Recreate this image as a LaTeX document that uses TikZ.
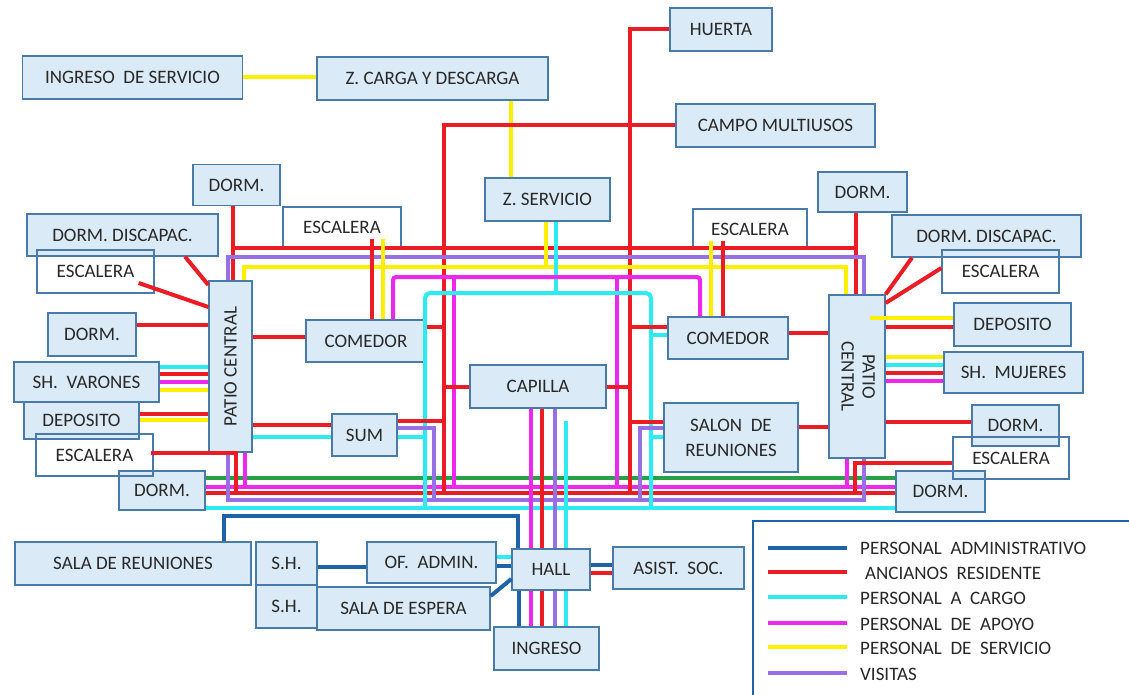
\documentclass[tikz,border=0pt]{standalone}
\usepackage{fontspec}
\setmainfont{Carlito}
\usepackage{tikz}
\usetikzlibrary{positioning,calc}

\definecolor{boxfill}{RGB}{218,234,246}
\definecolor{boxline}{RGB}{72,122,170}
\definecolor{txtgray}{RGB}{40,40,40}
\definecolor{cRed}{RGB}{236,28,36}
\definecolor{cCyan}{RGB}{45,235,240}
\definecolor{cMag}{RGB}{236,40,236}
\definecolor{cYel}{RGB}{255,240,0}
\definecolor{cPur}{RGB}{150,112,228}
\definecolor{cGrn}{RGB}{40,160,72}
\definecolor{cBlu}{RGB}{30,98,168}

\begin{document}
\begin{tikzpicture}[x=1pt, y=-1pt,
  room/.style={draw=boxline, fill=boxfill, line width=1.3pt, inner sep=0pt,
               text=txtgray, font=\fontsize{19}{25}\selectfont, align=center},
  stair/.style={room, fill=none},
  flow/.style={line width=4pt},
  rd/.style={flow, draw=cRed},
  cy/.style={flow, draw=cCyan},
  mg/.style={flow, draw=cMag},
  yl/.style={flow, draw=cYel},
  pu/.style={flow, draw=cPur},
  gr/.style={flow, draw=cGrn, line width=3.2pt},
  bl/.style={flow, draw=cBlu},
  legbox/.style={draw=cBlu, line width=2pt},
  legtxt/.style={anchor=west, inner sep=0pt, text=txtgray,
                 font=\fontsize{19}{22}\selectfont}
]
\fill[white] (0,0) rectangle (1129,695);
\useasboundingbox (0,0) rectangle (1129,695);

\node[room, minimum width=220pt, minimum height=43pt] (ingServ) at (132.5,77.5) {INGRESO~ DE SERVICIO};
\node[room, minimum width=231pt, minimum height=43pt] (zCarga)  at (432.5,78.5) {Z. CARGA Y DESCARGA};
\node[room, minimum width=102pt, minimum height=43pt] (huerta)  at (721,29.5)   {HUERTA};
\node[room, minimum width=199pt, minimum height=43pt] (campo)   at (775.5,125.5) {CAMPO MULTIUSOS};
\node[room, minimum width=125pt, minimum height=43pt] (zServ)   at (547.5,199.5) {Z. SERVICIO};

\node[room, minimum width=87pt,  minimum height=41pt] (dormTL)  at (236.5,185)  {DORM.};
\node[room, minimum width=191pt, minimum height=42pt] (discL)   at (122.5,235)  {DORM. DISCAPAC.};
\node[room, minimum width=88pt,  minimum height=43pt] (dormL1)  at (92,334.5)   {DORM.};
\node[room, minimum width=145pt, minimum height=40pt] (shVar)   at (86.5,382)   {SH.~ VARONES};
\node[room, minimum width=115pt, minimum height=37pt] (depL)    at (81.5,420.5) {DEPOSITO};
\node[room, minimum width=86pt,  minimum height=39pt] (dormL2)  at (162,490.5)  {DORM.};
\node[room, minimum width=43pt,  minimum height=171pt] (patioL) at (230.5,366.5) {\rotatebox{90}{PATIO CENTRAL}};

\node[room, minimum width=120pt, minimum height=42pt] (comL)    at (366,341)    {COMEDOR};
\node[room, minimum width=65pt,  minimum height=42pt] (sum)     at (364.5,435)  {SUM};
\node[room, minimum width=136pt, minimum height=43pt] (capilla) at (538,386.5)  {CAPILLA};
\node[room, minimum width=120pt, minimum height=42pt] (comR)    at (728,338)    {COMEDOR};
\node[room, minimum width=134pt, minimum height=69pt] (salon)   at (731,437.5)  {SALON~ DE\\REUNIONES};
\node[room, minimum width=56pt,  minimum height=163pt] (patioR) at (857,376.5)
  {\rotatebox{-90}{\begin{tabular}{@{}c@{}}PATIO\\[-4pt]CENTRAL\end{tabular}}};

\node[room, minimum width=89pt,  minimum height=40pt] (dormTR)  at (862.5,192)  {DORM.};
\node[room, minimum width=189pt, minimum height=42pt] (discR)   at (986.5,236)  {DORM. DISCAPAC.};
\node[room, minimum width=117pt, minimum height=43pt] (depR)    at (1012.5,324.5) {DEPOSITO};
\node[room, minimum width=139pt, minimum height=41pt] (shMuj)   at (1013.5,372.5) {SH.~ MUJERES};
\node[room, minimum width=87pt,  minimum height=41pt] (dormR1)  at (1015.5,425.5) {DORM.};
\node[room, minimum width=89pt,  minimum height=41pt] (dormR2)  at (940.5,491.5) {DORM.};

\node[room, minimum width=236pt, minimum height=43pt] (salaReu) at (133,563.5)  {SALA DE REUNIONES};
\node[room, minimum width=61pt,  minimum height=43pt] (shTop)   at (286.5,563.5) {S.H.};
\node[room, minimum width=61pt,  minimum height=43pt] (shBot)   at (286.5,606.5) {S.H.};
\node[room, minimum width=173pt, minimum height=43pt] (espera)  at (403.5,608.5) {SALA DE ESPERA};
\node[room, minimum width=129pt, minimum height=41pt] (ofAdm)   at (431.5,562.5) {OF.~ ADMIN.};
\node[room, minimum width=78pt,  minimum height=41pt] (hall)    at (551,569.5)  {HALL};
\node[room, minimum width=131pt, minimum height=42pt] (asist)   at (678.5,568)  {ASIST.~ SOC.};
\node[room, minimum width=105pt, minimum height=43pt] (ingreso) at (546.5,648.5) {INGRESO};

\node[stair, minimum width=117pt, minimum height=43pt] (escL1)  at (95.5,271.5) {ESCALERA};
\node[stair, minimum width=117pt, minimum height=42pt] (escL2)  at (94.5,455)   {ESCALERA};
\node[stair, minimum width=118pt, minimum height=40pt] (escC1)  at (342,227)    {ESCALERA};
\node[stair, minimum width=114pt, minimum height=40pt] (escC2)  at (750,229)    {ESCALERA};
\node[stair, minimum width=117pt, minimum height=43pt] (escR1)  at (1000.5,271.5) {ESCALERA};
\node[stair, minimum width=116pt, minimum height=42pt] (escR2)  at (1011,458)   {ESCALERA};

\draw[gr] (dormL2.east |- 0,478) -- (dormR2.west |- 0,478);
\draw[mg] (dormL2.east |- 0,487) -- (dormR2.west |- 0,487);
\draw[rd] (dormL2.east |- 0,493) -- (dormR2.west |- 0,493);
\draw[cy] (dormL2.east |- 0,508) -- (dormR2.west |- 0,508);
\draw[pu] (patioL.south -| 228,0) -- (228,500) -- (864,500) -- (patioR.south -| 864,0);
\draw[bl] (salaReu.north -| 224,0) -- (224,516) -- (518,516) -- (hall.north -| 518,0);

\draw[yl] (ingServ.east) -- (ingServ.east -| zCarga.west);
\draw[yl] (zCarga.south -| 511,0) -- (zServ.north -| 511,0);
\draw[rd] (huerta.west) -| (630,493);
\draw[rd] (campo.west) -| (444,493);

\draw[rd] (dormTL.south -| 233,0) -- (patioL.north -| 233,0);
\draw[rd] (233,248) -- (856,248);
\draw[rd] (dormTR.south -| 856,0) -- (patioR.north -| 856,0);
\draw[pu] (patioL.north -| 228,0) |- (864,257) -- (patioR.north -| 864,0);
\draw[yl] (patioL.north -| 244,0) |- (846,267) -- (patioR.north -| 846,0);

\draw[rd] (discL.south -| 185,0) -- (patioL.west |- 0,285);
\draw[rd] (escL1.east |- 0,283) ++(-16,0) -- (patioL.west |- 0,307);
\draw[rd] (dormL1.east |- 0,325) -- (patioL.west |- 0,325);
\draw[cy] (shVar.east |- 0,367) -- (patioL.west |- 0,367);
\draw[rd] (shVar.east |- 0,374) -- (patioL.west |- 0,374);
\draw[mg] (shVar.east |- 0,382) -- (patioL.west |- 0,382);
\draw[yl] (shVar.east |- 0,390) -- (patioL.west |- 0,390);
\draw[rd] (depL.east |- 0,414) -- (patioL.west |- 0,414);
\draw[yl] (depL.east |- 0,420) -- (patioL.west |- 0,420);
\draw[rd] (escL2.east |- 0,453) ++(-3,0) -| (236,493);
\draw[mg] (patioL.south -| 245,0) -- (245,487);

\draw[rd] (patioL.east |- 0,337) -- (comL.west |- 0,337);
\draw[rd] (patioL.east |- 0,425) -- (sum.west |- 0,425);
\draw[cy] (patioL.east |- 0,437) -- (sum.west |- 0,437);

\draw[rd] (escC1.south -| 372,0) ++(0,-9) -- (comL.north -| 372,0);
\draw[yl] (escC1.south -| 383,0) ++(0,-9) -- (comL.north -| 383,0);
\draw[yl] (escC2.south -| 711,0) ++(0,-9) -- (comR.north -| 711,0);
\draw[rd] (escC2.south -| 723,0) ++(0,-9) -- (comR.north -| 723,0);
\draw[yl] (zServ.south -| 546,0) -- (546,267);
\draw[cy] (zServ.south -| 556,0) -- (556,293);
\draw[mg, rounded corners=3pt] (comL.north -| 393,0) |- (700,277) -- (comR.north -| 700,0);
\draw[mg] (454,277) -- (454,487);
\draw[mg] (617,277) -- (617,487);
\draw[cy, rounded corners=5pt] (425,508) |- (651,293) -- (651,508);

\draw[rd] (comL.east |- 0,327) -- (444,327);
\draw[rd] (capilla.west) -- (capilla.west -| 444,0);
\draw[rd] (capilla.east) -- (capilla.east -| 630,0);
\draw[rd] (comR.west |- 0,327) -- (630,327);
\draw[cy] (comR.west |- 0,335) -- (651,335);
\draw[rd] (salon.west |- 0,422) -- (630,422);
\draw[pu] (salon.west |- 0,428) -| (640,500);
\draw[cy] (salon.west |- 0,437) -- (651,437);
\draw[rd] (sum.east |- 0,421) -- (444,421);
\draw[pu] (sum.east |- 0,428) -| (434,500);
\draw[cy] (sum.east |- 0,437) -- (425,437);
\draw[rd] (comR.east |- 0,333) -- (patioR.west |- 0,333);
\draw[rd] (salon.east |- 0,427) -- (patioR.west |- 0,427);

\draw[rd] (discR.south -| 912,0) -- (patioR.north east);
\draw[rd] (escR1.west |- 0,268) -- (patioR.east |- 0,303);
\draw[yl] (patioR.east |- 0,318) ++(-16,0) -- (depR.west |- 0,318);
\draw[rd] (patioR.east |- 0,327) -- (depR.west |- 0,327);
\draw[yl] (patioR.east |- 0,357) -- (shMuj.west |- 0,357);
\draw[cy] (patioR.east |- 0,365) -- (shMuj.west |- 0,365);
\draw[rd] (patioR.east |- 0,373) -- (shMuj.west |- 0,373);
\draw[mg] (patioR.east |- 0,381) -- (shMuj.west |- 0,381);
\draw[rd] (patioR.east |- 0,422) -- (dormR1.west |- 0,422);
\draw[rd] (escR2.west |- 0,463) -| (855,493);
\draw[mg] (patioR.south -| 847,0) -- (847,487);

\draw[mg] (capilla.south -| 531,0) -- (hall.north -| 531,0);
\draw[rd] (capilla.south -| 542,0) -- (hall.north -| 542,0);
\draw[pu] (capilla.south -| 555,0) -- (hall.north -| 555,0);
\draw[cy] (capilla.south -| 566,0) ++(0,12) -- (hall.north -| 566,0);
\draw[bl] (hall.south -| 519,0) -- (ingreso.north -| 519,0);
\draw[mg] (hall.south -| 531,0) -- (ingreso.north -| 531,0);
\draw[rd] (hall.south -| 542,0) -- (ingreso.north -| 542,0);
\draw[pu] (hall.south -| 555,0) -- (ingreso.north -| 555,0);
\draw[cy] (hall.south -| 566,0) -- (ingreso.north -| 566,0);
\draw[cy] (ofAdm.east |- 0,557) -- (hall.west |- 0,557);
\draw[bl] (ofAdm.east |- 0,566) -- (hall.west |- 0,566);
\draw[bl] (espera.east |- 0,596) -- (hall.west |- 0,579);
\draw[bl] (shTop.east |- 0,567) -- (ofAdm.west |- 0,567);
\draw[bl] (hall.east |- 0,565) -- (asist.west |- 0,565);
\draw[rd] (hall.east |- 0,573) -- (asist.west |- 0,573);

\draw[legbox] (753,521) rectangle (1140,705);
\node[legtxt] (lgAdm) at (860,548) {PERSONAL~ ADMINISTRATIVO};
\node[legtxt] (lgAnc) at (865,573) {ANCIANOS~ RESIDENTE};
\node[legtxt] (lgCar) at (860,598) {PERSONAL~ A~ CARGO};
\node[legtxt] (lgApo) at (860,624) {PERSONAL~ DE~ APOYO};
\node[legtxt] (lgSer) at (860,648) {PERSONAL~ DE~ SERVICIO};
\node[legtxt] (lgVis) at (860,674) {VISITAS};
\draw[bl] (768,548) -- (847,548);
\draw[rd] (768,572) -- (847,572);
\draw[cy] (768,597) -- (847,597);
\draw[mg] (768,623) -- (847,623);
\draw[yl] (768,647) -- (847,647);
\draw[pu] (768,673) -- (847,673);
\end{tikzpicture}
\end{document}
